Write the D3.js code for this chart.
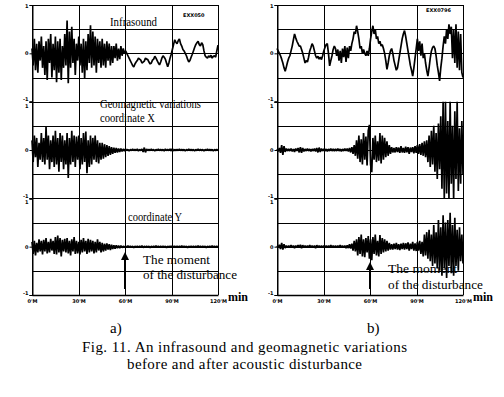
<!DOCTYPE html>
<html>
<head>
<meta charset="utf-8">
<script src="https://cdnjs.cloudflare.com/ajax/libs/d3/7.8.5/d3.min.js"></script>
<style>
  body { margin: 0; background: #fff; }
  svg { display: block; }
  .serif { font-family: "Liberation Serif", "Times New Roman", serif; }
  .tiny { font-family: "DejaVu Sans", sans-serif; font-size: 5px; font-weight: bold; }
</style>
</head>
<body>
<svg id="svg0" width="504" height="397"></svg>
<script>
// time axis (minutes) and labels
var minutes = [0, 30, 60, 90, 120];
var xTickLabels = ["0'M", "30'M", "60'M", "90'M", "120'M"];
var disturbanceMin = 60;

// signal values in hundredths, sampled evenly over 0..120 min
var leftInfrasound = [
  10,-25,30,-35,20,-40,25,-15,35,-30,
  15,-45,25,-55,30,-20,40,-50,20,-35,
  35,-60,25,-40,30,-55,15,-30,40,-25,
  68,-62,45,-30,55,-20,30,-45,20,-15,
  35,-25,20,-40,30,-52,25,-35,40,-20,
  58,-30,45,-25,35,-40,30,-20,25,-30,
  30,-25,20,-30,25,-15,20,-25,15,-20,
  15,-10,20,-15,10,-12,15,-5,10,0,
  5,0,-5,-10,-15,-20,-25,-28,-22,-18,
  -15,-10,-12,-14,-20,-18,-16,-10,-12,-13,
  -18,-22,-20,-14,-12,-6,-10,-15,-20,-24,
  -18,-10,-5,-8,-12,-20,-28,-20,-10,-2,
  8,18,28,23,20,26,30,20,15,8,
  5,0,-5,-12,-18,-15,-8,-2,5,12,
  18,22,25,18,15,22,18,5,-5,-8,
  -10,-5,-8,-4,-10,-6,-5,-8,5,17
];
var leftX = [
  20,-25,30,-15,25,-35,15,-20,35,-25,
  25,-30,48,-20,30,-40,20,-25,30,-35,
  40,-30,25,-45,35,-25,30,-40,20,-30,
  35,-58,25,-30,40,-25,30,-35,28,-20,
  30,-40,25,-30,35,-25,38,-48,20,-35,
  30,-30,25,-20,30,-25,20,-28,15,-20,
  15,-18,12,-15,10,-12,8,-10,6,-8,
  5,-6,4,-5,3,-4,3,-3,2,-2,
  2,-1,1,-2,1,-1,2,-1,1,-1,
  2,-2,1,-1,2,-4,5,-5,2,-1,
  1,-1,2,-1,1,-2,1,-1,2,-1,
  1,-1,1,-2,2,-1,1,-1,2,-2,
  3,-2,1,-1,1,-1,2,-1,1,-1,
  1,-2,1,-1,2,-1,1,-1,1,-2,
  1,-1,2,-1,1,-1,1,-2,1,-1,
  2,-1,1,-1,1,-2,1,-1,1,-1
];
var leftY = [
  10,-15,12,-18,8,-12,15,-10,12,-16,
  14,-10,18,-14,10,-12,16,-8,12,-15,
  20,-16,23,-12,18,-20,14,-10,16,-12,
  18,-14,12,-18,15,-10,20,-15,12,-14,
  10,-16,14,-12,18,-10,12,-15,16,-12,
  14,-10,12,-14,10,-12,15,-8,10,-12,
  8,-10,6,-8,7,-6,5,-7,4,-5,
  3,-4,3,-3,2,-3,2,-2,1,-1,
  1,-1,2,-1,1,-1,1,-2,1,-1,
  1,-1,1,-1,2,-2,1,-1,1,-1,
  1,-2,1,-1,1,-1,2,-1,1,-1,
  1,-1,1,-1,1,-2,1,-1,1,-1,
  2,-1,1,-1,1,-1,1,-1,2,-1,
  1,-1,1,-2,1,-1,1,-1,1,-1,
  1,-1,2,-1,1,-1,1,-1,1,-2,
  1,-1,1,-1,2,-1,1,-1,1,-1
];
var rightInfrasound = [
  10,5,0,-5,-12,-20,-30,-37,-28,-18,
  -10,-5,5,15,28,40,32,25,20,15,
  15,8,0,-10,-20,-15,-18,-8,5,12,
  20,15,5,-5,-10,-6,-12,-8,-13,-5,
  5,12,18,20,0,-26,-15,-5,8,15,
  10,-5,8,-15,5,-20,10,-8,15,-18,
  12,-10,15,5,20,30,45,40,57,45,
  30,10,15,0,8,0,-5,5,-5,10,
  30,45,57,40,50,30,35,20,25,15,
  18,10,0,-15,-33,-20,-5,5,10,0,
  -15,-25,-35,-30,-15,0,15,30,40,47,
  35,20,5,-10,-25,-35,-47,-30,-10,10,
  30,5,25,-5,20,-10,0,-20,-35,-47,
  -30,-10,5,12,15,10,-5,-25,-40,-57,
  -30,-10,15,35,20,50,30,60,40,55,
  -10,50,-20,60,-30,45,-35,40,-40,-50
];
var rightX = [
  2,-3,4,-6,10,-10,8,-4,3,-2,
  2,-2,3,-3,2,-4,3,-2,4,-5,
  6,-6,4,-3,2,-2,3,-2,2,-3,
  2,-2,3,-3,4,-5,5,-4,3,-2,
  2,-2,2,-3,2,-2,3,-2,2,-2,
  2,-2,3,-2,2,-3,2,-2,3,-2,
  3,-3,4,-5,6,-8,10,-12,20,-18,
  30,-25,22,-30,35,-20,28,-32,40,52,
  -30,-46,25,-20,30,-25,18,-22,35,-28,
  30,-20,25,-15,18,-12,10,-8,6,-5,
  4,-5,6,-4,5,-6,8,-5,4,-6,
  7,-5,6,-8,5,-4,6,-7,8,-6,
  10,-8,12,-10,15,-12,18,-15,20,-25,
  30,-35,40,-30,50,-45,35,-60,55,-40,
  70,-80,100,-100,100,-90,60,-100,100,-70,
  50,-100,80,-60,100,-85,45,-70,60,-50
];
var rightY = [
  2,-2,4,-5,8,-6,5,-3,2,-2,
  2,-2,3,-2,2,-3,2,-2,3,-2,
  4,-3,3,-2,2,-2,2,-2,3,-2,
  2,-2,2,-3,3,-2,2,-2,2,-2,
  2,-2,2,-2,2,-2,3,-2,2,-2,
  2,-2,2,-2,3,-2,2,-2,2,-3,
  3,-3,5,-4,6,-8,12,-10,15,-18,
  20,-15,25,-20,15,-22,18,-12,22,-25,
  15,-28,20,-15,25,-18,12,-20,24,-15,
  18,-12,15,-10,12,-8,8,-6,5,-6,
  6,-5,8,-6,5,-7,6,-5,8,-6,
  7,-5,9,-8,6,-5,10,-8,7,-9,
  10,-8,12,-15,10,-20,25,-18,30,-25,
  35,-30,25,-40,45,-35,30,-45,55,-50,
  40,-60,65,-45,50,-65,55,-40,70,-55,
  45,-60,60,-40,35,-50,40,-30,25,-35
];

var svg = d3.select('#svg0');

var plotTop = 5;
var plotBottom = 295;
var sectionH = (plotBottom - plotTop) / 3;

var panels = [
  { x0: 32, x1: 218, series: [leftInfrasound, leftX, leftY], stamp: "EXX050", stampX: 183, stampY: 17, arrowTip: 252 },
  { x0: 277, x1: 463, series: [rightInfrasound, rightX, rightY], stamp: "EXX0796", stampX: 426, stampY: 12, arrowTip: 262 }
];

panels.forEach(function (p) {
  var x = d3.scaleLinear().domain([0, 120]).range([p.x0, p.x1]);
  var g = svg.append('g');

  // horizontal grid (every half unit) and vertical grid
  var yAll = d3.scaleLinear().domain([0, 12]).range([plotTop, plotBottom]);
  g.selectAll('.hgrid')
    .data(d3.range(0, 13))
    .enter()
    .append('line')
    .attr('x1', p.x0).attr('x2', p.x1)
    .attr('y1', function (d) { return Math.round(yAll(d)) + 0.5; })
    .attr('y2', function (d) { return Math.round(yAll(d)) + 0.5; })
    .attr('stroke', '#000')
    .attr('stroke-width', 1)
    .attr('shape-rendering', 'crispEdges');

  g.selectAll('.vgrid')
    .data(minutes)
    .enter()
    .append('line')
    .attr('x1', function (d) { return Math.round(x(d)) + 0.5; })
    .attr('x2', function (d) { return Math.round(x(d)) + 0.5; })
    .attr('y1', plotTop).attr('y2', plotBottom)
    .attr('stroke', '#000')
    .attr('stroke-width', 1)
    .attr('shape-rendering', 'crispEdges');

  p.series.forEach(function (vals, k) {
    var top = plotTop + k * sectionH;
    var y = d3.scaleLinear().domain([-100, 100]).range([top + sectionH, top]);
    var n = vals.length;

    var axis = d3.axisLeft(y)
      .tickValues([-100, 0, 100])
      .tickSize(3)
      .tickFormat(function (d) { return d / 100; });
    var ag = g.append('g')
      .attr('transform', 'translate(' + (Math.round(p.x0) + 0.5) + ',0)')
      .call(axis);
    ag.select('.domain').attr('stroke-width', 1);
    ag.selectAll('text')
      .attr('class', 'tiny')
      .attr('x', -4)
      .attr('dy', function (d) { return d === 100 ? (k === 0 ? '0.5em' : '1.1em') : (d === -100 ? '-0.2em' : '0.32em'); });

    var line = d3.line()
      .x(function (d, i) { return x(i * 120 / (n - 1)); })
      .y(function (d) { return y(d); });

    g.append('path')
      .datum(vals)
      .attr('d', line)
      .attr('fill', 'none')
      .attr('stroke', '#000')
      .attr('stroke-width', 1.7)
      .attr('stroke-linejoin', 'bevel');
  });

  var xAxis = d3.axisBottom(x)
    .tickValues(minutes)
    .tickSize(0)
    .tickFormat(function (d, i) { return xTickLabels[i]; });
  var xg = g.append('g')
    .attr('transform', 'translate(0,' + plotBottom + ')')
    .call(xAxis);
  xg.select('.domain').attr('stroke-width', 1.5);
  xg.selectAll('text').attr('class', 'tiny').attr('dy', '0.9em');

  g.append('text')
    .attr('class', 'serif')
    .attr('x', p.x1 + 10)
    .attr('y', 301)
    .attr('font-size', 12)
    .attr('font-weight', 'bold')
    .text('min');

  g.append('text')
    .attr('class', 'tiny')
    .attr('x', p.stampX)
    .attr('y', p.stampY)
    .text(p.stamp);

  // arrow marking the disturbance
  var ax = x(disturbanceMin);
  g.append('line')
    .attr('x1', ax).attr('x2', ax)
    .attr('y1', p.arrowTip + 6).attr('y2', plotBottom - 6)
    .attr('stroke', '#000')
    .attr('stroke-width', 2);
  g.append('path')
    .attr('d', 'M' + ax + ',' + p.arrowTip + 'L' + (ax - 4) + ',' + (p.arrowTip + 8) + 'L' + (ax + 4) + ',' + (p.arrowTip + 8) + 'Z')
    .attr('fill', '#000');
});

// annotations, widths matched to the figure
var notes = [
  { t: 'Infrasound', x: 110, y: 26, w: 47, s: 13 },
  { t: 'Geomagnetic variations', x: 100, y: 108, w: 101, s: 12 },
  { t: 'coordinate X', x: 100, y: 122, w: 55, s: 12 },
  { t: 'coordinate Y', x: 128, y: 221, w: 54, s: 13 },
  { t: 'The moment', x: 143, y: 264, w: 67, s: 13 },
  { t: 'of the disturbance', x: 143, y: 279, w: 94, s: 13 },
  { t: 'The moment', x: 388, y: 273, w: 69, s: 13 },
  { t: 'of the disturbance', x: 388, y: 289, w: 95, s: 13 }
];
svg.selectAll('.note')
  .data(notes)
  .enter()
  .append('text')
  .attr('class', 'serif')
  .attr('x', function (d) { return d.x; })
  .attr('y', function (d) { return d.y; })
  .attr('font-size', function (d) { return d.s; })
  .attr('textLength', function (d) { return d.w; })
  .attr('lengthAdjust', 'spacingAndGlyphs')
  .text(function (d) { return d.t; });

svg.append('text').attr('class', 'serif').attr('x', 110).attr('y', 333).attr('font-size', 15).text('a)');
svg.append('text').attr('class', 'serif').attr('x', 367).attr('y', 333).attr('font-size', 15).text('b)');
svg.append('text').attr('class', 'serif').attr('x', 82).attr('y', 352).attr('font-size', 15)
  .attr('textLength', 325).attr('lengthAdjust', 'spacing')
  .text('Fig. 11. An infrasound and geomagnetic variations');
svg.append('text').attr('class', 'serif').attr('x', 127).attr('y', 369).attr('font-size', 15)
  .attr('textLength', 235).attr('lengthAdjust', 'spacing')
  .text('before and after acoustic disturbance');
</script>
</body>
</html>
